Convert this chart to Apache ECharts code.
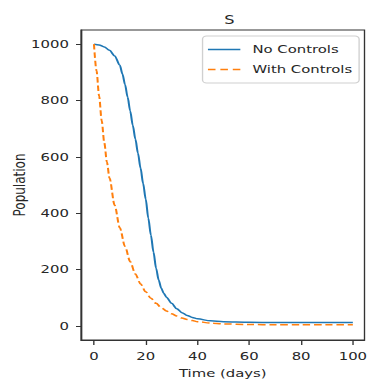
<!DOCTYPE html>
<html>
<head>
<meta charset="utf-8">
<script src="https://cdn.jsdelivr.net/npm/echarts@6/dist/echarts.min.js"></script>
<style>
  html, body { margin: 0; padding: 0; background: #fff; overflow: hidden; }
  /* the reference text is stretched sideways, so draw narrow and stretch */
  #chart { width: 274px; height: 387px; transform: scaleX(1.35); transform-origin: 0 0; }
</style>
</head>
<body>
<div id="chart"></div>
<script>
// values
const daysNo = [0, 2, 4, 6, 8, 10, 11, 12, 13, 14, 15, 16, 17, 18, 19, 20, 21, 22, 23, 24, 25, 26, 27, 28, 30, 32, 34, 36, 38, 40, 45, 50, 60, 70, 80, 90, 100]
const noControls = [1000, 997, 990, 978, 958, 925, 894, 857, 812, 763, 712, 663, 613, 560, 505, 450, 382, 322, 262, 205, 163, 134, 115, 102, 80, 61, 47, 37, 30, 25, 18, 15, 13, 12, 12, 12, 12]

const daysWith = [0, 1, 2, 3, 4, 5, 6, 8, 10, 12, 14, 16, 18, 20, 22, 24, 26, 28, 30, 32, 34, 36, 38, 40, 45, 50, 60, 70, 80, 90, 100]
const withControls = [1000, 905, 815, 728, 650, 582, 525, 428, 348, 282, 228, 184, 149, 121, 98, 80, 65, 53, 43, 35, 28, 23, 19, 15, 10, 7, 5, 4, 4, 4, 4]

const xTicks = [0, 20, 40, 60, 80, 100]
const yTicks = [0, 200, 400, 600, 800, 1000]

const pair = (xs, ys) => xs.map((x, i) => [x, ys[i]])

const font = 'DejaVu Sans'
const ink = '#262626'
const frame = '#333'

const solidIcon = 'path://M0,0H24V1.6H0Z'
const dashIcon = 'path://M0,0H5.6V1.6H0Z M9.2,0H14.8V1.6H9.2Z M18.4,0H24V1.6H18.4Z'

const chart = echarts.init(document.getElementById('chart'), null, { renderer: 'svg' })
chart.setOption({
  animation: false,
  textStyle: { fontFamily: font },
  title: {
    text: 'S',
    left: 165,
    top: 9,
    textAlign: 'center',
    textStyle: { fontFamily: font, fontSize: 12, fontWeight: 'normal', color: ink }
  },
  grid: {
    left: 60,
    top: 30,
    width: 210,
    height: 310,
    outerBoundsMode: 'none',
    containLabel: false,
    show: true,
    borderColor: frame,
    borderWidth: 1
  },
  legend: {
    top: 36,
    right: 8,
    orient: 'vertical',
    itemWidth: 24,
    itemHeight: 12,
    itemGap: 9,
    padding: [8, 5, 8, 4],
    borderColor: '#d0d0d0',
    borderWidth: 1,
    borderRadius: 3,
    backgroundColor: 'rgba(255,255,255,0.8)',
    textStyle: { fontFamily: font, fontSize: 11, color: ink, padding: [0, 0, 0, 4] },
    data: [
      { name: 'No Controls', icon: solidIcon },
      { name: 'With Controls', icon: dashIcon }
    ]
  },
  xAxis: {
    type: 'value',
    min: -5,
    max: 104.5,
    name: 'Time (days)',
    nameLocation: 'middle',
    nameGap: 28,
    nameMoveOverlap: false,
    nameTextStyle: { fontFamily: font, fontSize: 11, color: ink },
    axisLine: { show: true, onZero: false, lineStyle: { color: frame } },
    axisTick: { show: true, inside: false, length: 5, customValues: xTicks, lineStyle: { color: frame } },
    axisLabel: { customValues: xTicks, margin: 11, fontFamily: font, fontSize: 11, color: ink },
    splitLine: { show: false }
  },
  yAxis: {
    type: 'value',
    min: -50,
    max: 1050,
    name: 'Population',
    nameLocation: 'middle',
    nameGap: 40,
    nameMoveOverlap: false,
    nameTextStyle: { fontFamily: font, fontSize: 12, color: ink },
    axisLine: { show: true, onZero: false, lineStyle: { color: frame } },
    axisTick: { show: true, inside: false, length: 3.7, customValues: yTicks, lineStyle: { color: frame } },
    axisLabel: {
      customValues: yTicks,
      margin: 9,
      fontFamily: font,
      fontSize: 11,
      color: ink,
      formatter: v => String(v)
    },
    splitLine: { show: false }
  },
  series: [
    {
      name: 'No Controls',
      type: 'line',
      data: pair(daysNo, noControls),
      smooth: 0.3,
      smoothMonotone: 'x',
      symbol: 'none',
      color: '#1f77b4',
      lineStyle: { width: 1.5, color: '#1f77b4' }
    },
    {
      name: 'With Controls',
      type: 'line',
      data: pair(daysWith, withControls),
      smooth: 0.3,
      smoothMonotone: 'x',
      symbol: 'none',
      color: '#ff7f0e',
      lineStyle: { width: 1.5, color: '#ff7f0e', type: [5.5, 2.8] }
    }
  ]
})
</script>
</body>
</html>
